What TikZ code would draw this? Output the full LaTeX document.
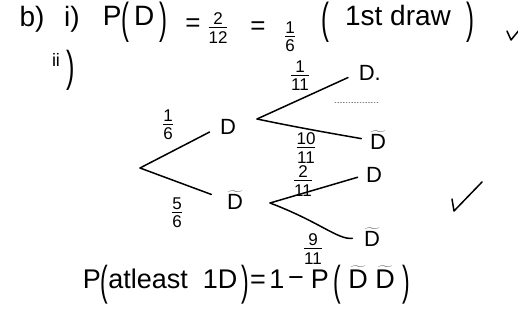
\documentclass[tikz,border=0pt]{standalone}
\usepackage{fontspec}
\setmainfont{Liberation Sans}
\usepackage{graphicx}
\setlength\arrayrulewidth{1.3pt}
\newcommand\tallp[1]{\raisebox{-0.28em}{\scalebox{0.85}[1.55]{#1}}}
\newcommand\fr[2]{\renewcommand\arraystretch{0}\begin{tabular}{@{}c@{}}\rule[-0.12em]{0pt}{0.8em}#1\\\hline\rule{0pt}{0.88em}#2\end{tabular}}
\newcommand\Dt{$\widetilde{\mbox{D}}$}
\begin{document}
\begin{tikzpicture}[x=1pt,y=-1pt,line width=1.5pt,line cap=round,line join=round,
  txt/.style={inner sep=0pt,font=\fontsize{#1}{#1}\selectfont},
  txt/.default=22,
  dn/.style={txt=22},
  fracl/.style={txt=17}]
\useasboundingbox (0,0) rectangle (518,320);
% top line
\node[txt=28] (b) at (32,19) {b)};
\node[txt=28] (i) at (72,19) {i)};
\node[txt=28] (pd) at (135,22) {P\tallp{(}\,D\,\tallp{)}};
\node[txt=26] (eq1) at (193,25) {=};
\node[fracl] (f1) at (218,28) {\fr{2}{12}};
\node[txt=26] (eq2) at (258,28) {=};
\node[fracl] (f2) at (290,37) {\fr{1}{6}};
\node[txt=28] (fd) at (398,22) {\tallp{(}\ \ 1st draw\ \ \tallp{)}};
\coordinate (v1) at (507,31);
\coordinate (v2) at (511,40);
\coordinate (v3) at (520,29);
\draw (v1) -- (v2) -- (v3);
% ii)
\node[txt=18] (ii) at (56,60) {ii};
\node[txt=36] (iip) at (71,70) {\scalebox{0.7}[1.2]{)}};
% tree
\coordinate (root) at (140,168);
\node[dn] (D1) at (228,127) {D};
\node[dn] (T1) at (235,200) {\Dt};
\coordinate (k1) at (257,119);
\coordinate (k2) at (270,203);
\node[dn,anchor=west] (DD) at (358,73) {D.};
\node[dn] (DT) at (378,140) {\Dt};
\node[dn] (TD) at (374,175) {D};
\node[dn] (TT) at (372,237) {\Dt};
\draw[shorten >=11pt] (root) -- (D1.west);
\draw[shorten >=16pt] (root) -- (T1.west);
\draw[shorten >=11pt] (k1) -- (DD.west);
\draw[shorten >=8pt] (k1) .. controls (300,128) and (335,134) .. (DT.west);
\draw[shorten >=8pt] (k2) -- (TD.west);
\draw[shorten >=11pt] (k2) .. controls (320,222) and (338,240) .. (TT.west);
% labels
\node[fracl] (l1) at (168,125) {\fr{1}{6}};
\node[fracl] (l2) at (177,213) {\fr{5}{6}};
\node[fracl] (l3) at (300,76) {\fr{1}{11}};
\node[fracl] (l4) at (306,148) {\fr{10}{11}};
\node[fracl] (l5) at (303,181) {\fr{2}{11}};
\node[fracl] (l6) at (313,249) {\fr{9}{11}};
% smudge
\draw[dotted,line width=0.8pt,gray] (335,102) -- (378,102);
% check mark
\coordinate (c1) at (452,199);
\coordinate (c2) at (454,211);
\coordinate (c3) at (482,182);
\draw (c1) -- (c2) -- (c3);
% bottom line
\node[txt=27,anchor=base west] (pa) at (82,288) {P\tallp{(}atleast\ \ 1D\,\tallp{)}};
\node[txt=27] (eqb) at (258,282) {=};
\node[txt=27] (one) at (277,279) {1};
\node[txt=27] (mn) at (296,282) {−};
\node[txt=27,anchor=base west] (pp) at (310,288) {P\,\tallp{(}\ \Dt\ \Dt\ \tallp{)}};
\end{tikzpicture}
\end{document}
